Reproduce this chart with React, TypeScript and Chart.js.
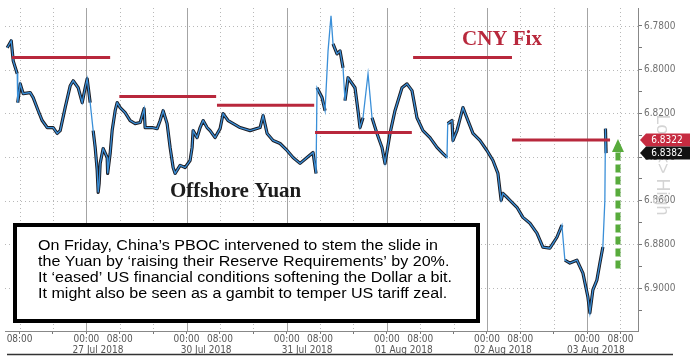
import React, { useEffect, useRef } from "react";
import { Chart, registerables } from "chart.js";

Chart.register(...registerables);

// Hours since 26 Jul 2018 00:00 (weekend removed), offshore yuan (USD/CNH)
const priceHours = [
  5.03, 5.99, 6.47, 7.43, 7.55, 8.14, 8.86, 10.54, 11.26, 12.46, 13.41, 14.61, 16.05, 17.01, 17.73, 18.92,
  20.12, 20.84, 22.04, 23.0, 23.71, 24.19, 24.91, 25.63, 26.11, 26.59, 26.83, 27.07, 27.31, 28.02, 28.98,
  29.1, 29.7, 30.18, 30.9, 31.38, 32.1, 33.29, 34.49, 35.69, 36.89, 37.84, 38.08, 39.76, 40.96, 41.68,
  42.4, 43.35, 44.07, 44.79, 45.27, 46.47, 47.66, 48.86, 49.34, 49.58, 50.54, 51.26, 51.98, 52.93, 53.65,
  54.85, 56.05, 56.77, 57.96, 60.84, 63.23, 65.63, 66.35, 67.31, 68.74, 70.42, 72.1, 73.53, 75.21, 76.89,
  78.32, 79.04, 79.28, 80.48, 81.2, 81.92, 82.63, 83.11, 84.07, 84.79, 85.51, 85.99, 86.71, 88.38, 89.1,
  89.58, 90.3, 91.5, 92.46, 93.65, 94.85, 95.57, 96.77, 97.96, 99.64, 100.84, 102.04, 103.23, 104.67,
  106.35, 108.02, 109.46, 110.42, 110.6, 111.62, 111.86, 112.81, 114.25, 115.45, 116.65, 118.32, 120.0,
  121.44, 122.63, 123.11, 123.4, 123.83, 124.79, 125.51, 127.19, 128.62, 130.3, 131.98, 133.41, 135.09,
  136.77, 137.96, 138.68, 139.88, 141.56, 143.0, 144.19, 144.67, 145.39, 146.35, 147.07, 147.78, 148.26,
  148.4, 148.55,
];
const priceValues = [
  6.79, 6.7868, 6.796, 6.8019, 6.8151, 6.8065, 6.811, 6.8105, 6.8128, 6.8188, 6.8233, 6.8265, 6.8265,
  6.8292, 6.8279, 6.8174, 6.8074, 6.8051, 6.8083, 6.8151, 6.8083, 6.8042, 6.8151, 6.8279, 6.8356, 6.8461,
  6.8562, 6.852, 6.8429, 6.8361, 6.8402, 6.8475, 6.8384, 6.8279, 6.8188, 6.8151, 6.8174, 6.8197, 6.8233,
  6.8247, 6.8242, 6.8179, 6.8265, 6.8265, 6.827, 6.8233, 6.8188, 6.8247, 6.8356, 6.8448, 6.8475, 6.8438,
  6.8448, 6.8416, 6.8356, 6.8279, 6.8311, 6.8265, 6.8233, 6.8265, 6.8279, 6.8311, 6.827, 6.8201, 6.8233,
  6.8265, 6.8279, 6.8265, 6.821, 6.8292, 6.8324, 6.8338, 6.837, 6.8402, 6.8429, 6.8402, 6.8379, 6.8475,
  6.8083, 6.8128, 6.8188, 6.7914, 6.7754, 6.7882, 6.7928, 6.7914, 6.7992, 6.8142, 6.8037, 6.8083, 6.8188,
  6.8265, 6.822, 6.8019, 6.822, 6.8292, 6.8356, 6.8429, 6.8292, 6.8188, 6.8083, 6.8065, 6.8096, 6.822,
  6.8279, 6.8311, 6.8356, 6.8384, 6.8402, 6.8247, 6.8233, 6.8324, 6.8279, 6.8174, 6.8233, 6.8292, 6.8324,
  6.837, 6.8416, 6.8475, 6.8552, 6.8598, 6.8566, 6.8584, 6.8598, 6.863, 6.8676, 6.8703, 6.8748, 6.8812,
  6.8817, 6.8767, 6.8712, 6.8872, 6.8885, 6.8872, 6.8931, 6.904, 6.9113, 6.9008, 6.8963, 6.8885, 6.8812,
  6.8598, 6.827, 6.8382,
];

// CNY fixing segments
const fixStartHours = [6.2, 31.9, 55.3, 78.8, 102.3, 126.0];
const fixEndHours = [29.7, 55.1, 78.6, 102.0, 126.0, 149.5];
const fixValues = [6.7945, 6.8123, 6.8163, 6.8288, 6.7945, 6.8322];

// axis ticks
const xTickHours = [8, 16, 24, 32, 40, 48, 56, 64, 72, 80, 88, 96, 104, 112, 120, 128, 136, 144, 152];
const xTickLabels = ["08:00", "", "00:00", "08:00", "", "00:00", "08:00", "", "00:00", "08:00", "", "00:00", "08:00", "", "00:00", "08:00", "", "00:00", "08:00"];
const dateHours = [26.8, 52.7, 76.9, 100.1, 123.8, 146.1];
const dateLabels = ["27 Jul 2018", "30 Jul 2018", "31 Jul 2018", "01 Aug 2018", "02 Aug 2018", "03 Aug 2018"];
const yTickValues = [6.78, 6.79, 6.8, 6.81, 6.82, 6.83, 6.84, 6.85, 6.86, 6.87, 6.88, 6.89, 6.9, 6.91];
const yTickLabels = ["6.7800", "", "6.8000", "", "6.8200", "", "6.8400", "", "6.8600", "", "6.8800", "", "6.9000", ""];

// right-edge value tags
const tagValues = [6.8322, 6.8382];
const tagLabels = ["6.8322", "6.8382"];
const tagColors = ["#c62b40", "#111111"];

// green arrow (from / to values)
const arrowHour = 151.4;
const arrowFrom = 6.891;
const arrowTo = 6.8322;

const titleFix = "CNY Fix";
const titleYuan = "Offshore Yuan";
const watermark = "Low <> High";
const noteLines = [
  "On Friday, China\u2019s PBOC intervened to stem the slide in",
  "the Yuan by \u2018raising their Reserve Requirements\u2019 by 20%.",
  "It \u2018eased\u2019 US financial conditions softening the Dollar a bit.",
  "It might also be seen as a gambit to temper US tariff zeal.",
];

const AXIS_FONT = "'DejaVu Sans Condensed', 'Liberation Sans Narrow', 'DejaVu Sans', sans-serif";
const RED = "#b8283c";
const BLACK_LINE = "#1b1b22";

const isMajorY = (v: number) => {
  const idx = yTickValues.findIndex((t) => Math.abs(t - v) < 1e-6);
  return idx >= 0 && yTickLabels[idx] !== "";
};

const gridPlugin = {
  id: "customGrid",
  beforeDatasetsDraw(chart: any) {
    const { ctx, chartArea, scales } = chart;
    const x = scales.x;
    const y = scales.y;
    ctx.save();
    ctx.lineWidth = 1;
    // horizontal dotted lines at labelled ticks
    ctx.strokeStyle = "#b8b8b8";
    ctx.setLineDash([1, 3]);
    yTickValues.forEach((v) => {
      if (!isMajorY(v)) return;
      const py = Math.round(y.getPixelForValue(v)) + 0.5;
      ctx.beginPath();
      ctx.moveTo(chartArea.left, py);
      ctx.lineTo(chartArea.right, py);
      ctx.stroke();
    });
    // vertical lines: solid at day starts, dotted otherwise
    xTickHours.forEach((h) => {
      const px = Math.round(x.getPixelForValue(h)) + 0.5;
      const solid = h % 24 === 0;
      ctx.setLineDash(solid ? [] : [1, 3]);
      ctx.strokeStyle = solid ? "#a4a4a4" : "#b8b8b8";
      ctx.beginPath();
      ctx.moveTo(px, chartArea.top);
      ctx.lineTo(px, chartArea.bottom);
      ctx.stroke();
    });
    ctx.restore();
  },
};

const overlayPlugin = {
  id: "overlay",
  afterDraw(chart: any) {
    const { ctx, scales } = chart;
    const x = scales.x;
    const y = scales.y;
    ctx.save();

    // green dashed arrow
    const ax = x.getPixelForValue(arrowHour);
    const y0 = y.getPixelForValue(arrowFrom);
    const y1 = y.getPixelForValue(arrowTo);
    ctx.strokeStyle = "#58ab3c";
    ctx.lineWidth = 5;
    ctx.setLineDash([8, 4]);
    ctx.beginPath();
    ctx.moveTo(ax, y0);
    ctx.lineTo(ax, y1 + 12);
    ctx.stroke();
    ctx.setLineDash([]);
    ctx.fillStyle = "#58ab3c";
    ctx.beginPath();
    ctx.moveTo(ax, y1 - 1);
    ctx.lineTo(ax - 6, y1 + 12);
    ctx.lineTo(ax + 6, y1 + 12);
    ctx.closePath();
    ctx.fill();

    // titles
    ctx.fillStyle = RED;
    ctx.font = "bold 21px 'Liberation Serif', serif";
    ctx.textBaseline = "alphabetic";
    ctx.textAlign = "left";
    ctx.fillText(titleFix, 462, 45);
    ctx.fillStyle = "#1c1c1c";
    ctx.fillText(titleYuan, 170, 197);

    // note box
    ctx.fillStyle = "#ffffff";
    ctx.fillRect(15, 225, 463, 96);
    ctx.strokeStyle = "#000000";
    ctx.lineWidth = 4;
    ctx.strokeRect(15, 225, 463, 96);
    ctx.fillStyle = "#000000";
    ctx.font = "15px 'Liberation Sans', Arial, sans-serif";
    ctx.textBaseline = "middle";
    const sx = 400 / ctx.measureText(noteLines[0]).width;
    noteLines.forEach((t, i) => {
      ctx.save();
      ctx.translate(38, 246 + i * 16);
      ctx.scale(sx, 1.03);
      ctx.fillText(t, 0, 0);
      ctx.restore();
    });

    // watermark
    ctx.save();
    ctx.translate(662, 165);
    ctx.rotate(Math.PI / 2);
    ctx.fillStyle = "#d4d4d4";
    ctx.font = "18px 'Liberation Sans', sans-serif";
    ctx.textAlign = "center";
    ctx.fillText(watermark, 0, 0);
    ctx.restore();

    // value tags
    ctx.font = "10px " + AXIS_FONT;
    ctx.textAlign = "center";
    ctx.textBaseline = "middle";
    tagValues.forEach((v, i) => {
      const py = y.getPixelForValue(v);
      const left = x.right + 2;
      ctx.fillStyle = tagColors[i];
      ctx.beginPath();
      ctx.moveTo(left, py);
      ctx.lineTo(left + 6, py - 6.5);
      ctx.lineTo(690, py - 6.5);
      ctx.lineTo(690, py + 6.5);
      ctx.lineTo(left + 6, py + 6.5);
      ctx.closePath();
      ctx.fill();
      ctx.fillStyle = "#ffffff";
      ctx.fillText(tagLabels[i], left + 27, py + 0.5);
    });

    // date row
    ctx.fillStyle = "#555555";
    ctx.font = "10px " + AXIS_FONT;
    dateLabels.forEach((d, i) => ctx.fillText(d, x.getPixelForValue(dateHours[i]), 350));

    // bottom rule
    ctx.strokeStyle = "#333333";
    ctx.lineWidth = 1.5;
    ctx.beginPath();
    ctx.moveTo(7, 354.5);
    ctx.lineTo(673, 354.5);
    ctx.stroke();

    ctx.restore();
  },
};

export default function App() {
  const canvasRef = useRef<HTMLCanvasElement | null>(null);

  useEffect(() => {
    const canvas = canvasRef.current;
    if (!canvas) return;
    const pricePoints = priceHours.map((h, i) => ({ x: h, y: priceValues[i] }));
    const fixSets = fixValues.map((v, i) => ({
      type: "line" as const,
      data: [
        { x: fixStartHours[i], y: v },
        { x: fixEndHours[i], y: v },
      ],
      borderColor: RED,
      borderWidth: 3,
      pointRadius: 0,
      order: 0,
    }));

    const steep = (c: any) => {
      const dx = Math.abs(c.p1.x - c.p0.x);
      const dy = Math.abs(c.p1.y - c.p0.y);
      return dy > 25 && dy > 8 * dx;
    };

    const chart = new Chart(canvas, {
      type: "line",
      data: {
        datasets: [
          ...fixSets,
          {
            data: pricePoints,
            borderColor: "#3a8fd8",
            borderWidth: 1.3,
            pointRadius: 0,
            tension: 0,
            order: 1,
          },
          {
            data: pricePoints,
            borderColor: BLACK_LINE,
            borderWidth: 3.2,
            pointRadius: 0,
            tension: 0,
            borderJoinStyle: "round",
            segment: {
              borderColor: (c: any) => (steep(c) ? "rgba(0,0,0,0)" : BLACK_LINE),
            },
            order: 2,
          },
        ],
      },
      options: {
        animation: false,
        responsive: true,
        maintainAspectRatio: false,
        layout: { padding: { left: 5, top: 7, right: 0, bottom: 0 } },
        plugins: { legend: { display: false }, tooltip: { enabled: false } },
        scales: {
          x: {
            type: "linear",
            min: 4.5,
            max: 156.2,
            afterBuildTicks: (scale: any) => {
              scale.ticks = xTickHours.map((v) => ({ value: v }));
            },
            afterFit: (scale: any) => {
              scale.height = 31;
            },
            ticks: {
              autoSkip: false,
              maxRotation: 0,
              padding: -1,
              color: "#555555",
              font: { size: 10, family: AXIS_FONT },
              callback: (value: any) => {
                const idx = xTickHours.indexOf(Number(value));
                return idx >= 0 ? xTickLabels[idx] : "";
              },
            },
            grid: {
              drawOnChartArea: false,
              tickLength: 3,
              tickColor: "#777777",
            },
            border: { display: true, color: "#888888", width: 1 },
          },
          y: {
            type: "linear",
            position: "right",
            reverse: true,
            min: 6.7718,
            max: 6.9196,
            afterBuildTicks: (scale: any) => {
              scale.ticks = yTickValues.map((v) => ({ value: v }));
            },
            afterFit: (scale: any) => {
              scale.width = 53;
            },
            ticks: {
              autoSkip: false,
              padding: 2,
              color: "#707070",
              font: { size: 10, family: AXIS_FONT },
              callback: (value: any) => {
                const idx = yTickValues.findIndex((t) => Math.abs(t - Number(value)) < 1e-6);
                return idx >= 0 ? yTickLabels[idx] : "";
              },
            },
            grid: {
              drawOnChartArea: false,
              tickLength: 4,
              tickColor: "#777777",
            },
            border: { display: true, color: "#888888", width: 1 },
          },
        },
      },
      plugins: [gridPlugin, overlayPlugin],
    } as any);

    return () => chart.destroy();
  }, []);

  return (
    <div style={{ position: "fixed", left: 0, top: 0, width: 691, height: 362, background: "#fff" }}>
      <canvas ref={canvasRef} />
    </div>
  );
}
